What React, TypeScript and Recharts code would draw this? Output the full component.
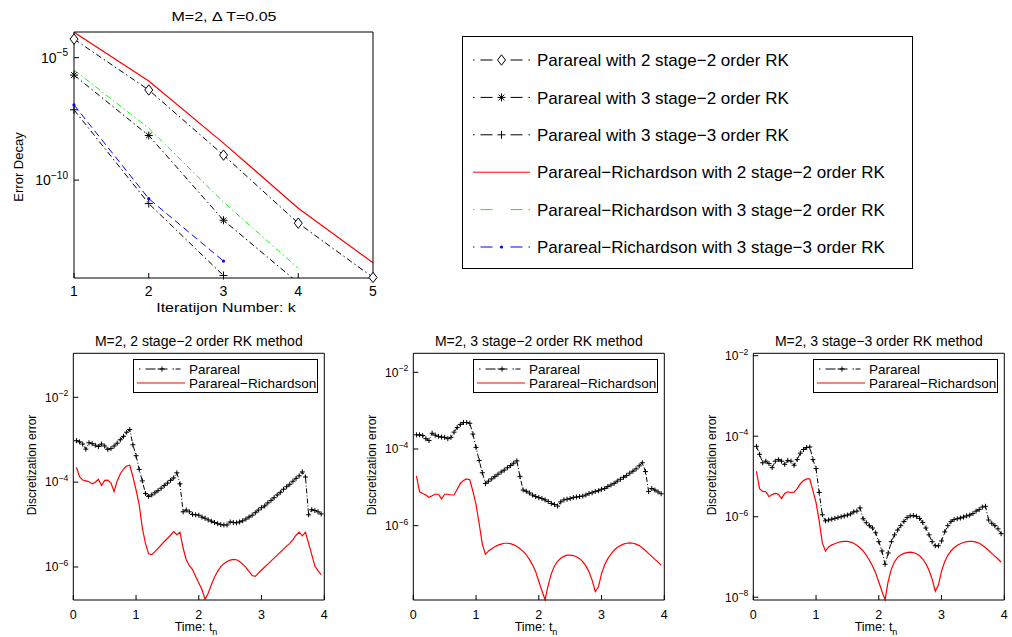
import React from 'react';
import { LineChart, Line, XAxis, YAxis, Legend } from 'recharts';

const FONT = '"Liberation Sans", Arial, Helvetica, sans-serif';
const MINUS = '\u2212';

// ---- top panel: error decay vs iteration number (M=2, dT=0.05)
const iterations = [1, 2, 3, 4, 5];
const pararealRK22 = [5.75e-5, 4.8e-7, 1.05e-9, 1.74e-12, 1.05e-14];
const pararealRK32 = [1.95e-6, 6.6e-9, 2.29e-12, 6.3e-15, null];
const pararealRK33 = [7.4e-8, 1.1e-11, 1.26e-14, null, null];
const richardsonRK22 = [1.1e-4, 1.12e-6, 3.24e-9, 7.1e-12, 4.17e-14];
const richardsonRK32 = [3.16e-6, 1.32e-8, 1.26e-11, 2.5e-14, null];
const richardsonRK33 = [1.17e-7, 1.74e-11, 4.9e-14, null, null];
const decayTicks = [1e-10, 1e-5];
const DECAY_MIN = 1e-14;
const DECAY_MAX = 1.12e-4;

// ---- bottom panels: discretization error vs time
const timeGrid = [
  0.05, 0.1, 0.15, 0.2, 0.25, 0.3, 0.35, 0.4, 0.45, 0.5,
  0.55, 0.6, 0.65, 0.7, 0.75, 0.8, 0.85, 0.9, 0.95, 1.0,
  1.05, 1.1, 1.15, 1.2, 1.25, 1.3, 1.35, 1.4, 1.45, 1.5,
  1.55, 1.6, 1.65, 1.7, 1.75, 1.8, 1.85, 1.9, 1.95, 2.0,
  2.05, 2.1, 2.15, 2.2, 2.25, 2.3, 2.35, 2.4, 2.45, 2.5,
  2.55, 2.6, 2.65, 2.7, 2.75, 2.8, 2.85, 2.9, 2.95, 3.0,
  3.05, 3.1, 3.15, 3.2, 3.25, 3.3, 3.35, 3.4, 3.45, 3.5,
  3.55, 3.6, 3.65, 3.7, 3.75, 3.8, 3.85, 3.9, 3.95,
];
const timeTicks = [0, 1, 2, 3, 4];

const pararealErr22 = [
  9.5e-4, 8.9e-4, 7.9e-4, 6.0e-4, 8.5e-4, 8.1e-4, 7.4e-4, 6.9e-4, 7.9e-4, 7.1e-4,
  5.9e-4, 6.2e-4, 7.1e-4, 8.3e-4, 1.0e-3, 1.2e-3, 1.5e-3, 1.74e-3, 7.6e-4, 4.2e-4,
  2.0e-4, 1.07e-4, 5.4e-5, 4.6e-5, 5.0e-5, 5.6e-5, 6.3e-5, 7.2e-5, 8.3e-5, 9.5e-5,
  1.1e-4, 1.26e-4, 1.66e-4, 9.1e-5, 2.0e-5, 2.2e-5, 2.0e-5, 1.74e-5, 1.7e-5, 1.66e-5,
  1.5e-5, 1.41e-5, 1.29e-5, 1.2e-5, 1.12e-5, 1.05e-5, 1.0e-5, 9.8e-6, 9.8e-6, 1.15e-5,
  1.12e-5, 1.1e-5, 1.15e-5, 1.23e-5, 1.35e-5, 1.5e-5, 1.66e-5, 1.9e-5, 2.2e-5, 2.5e-5,
  2.75e-5, 3.24e-5, 3.7e-5, 4.3e-5, 5.0e-5, 5.75e-5, 6.8e-5, 7.8e-5, 8.9e-5, 1.05e-4,
  1.23e-4, 1.41e-4, 1.74e-4, 1.32e-4, 1.7e-5, 2.24e-5, 2.14e-5, 2.0e-5, 1.78e-5,
];
const richardsonErr22 = [
  2.24e-4, 1.35e-4, 1.12e-4, 1.07e-4, 1.02e-4, 9.1e-5, 1.0e-4, 1.17e-4, 8.3e-5, 1.1e-4,
  1.12e-4, 9.5e-5, 6.0e-5, 1.07e-4, 1.58e-4, 2.04e-4, 2.4e-4, 2.5e-4, 1.35e-4, 6.6e-5,
  2.95e-5, 8.3e-6, 3.6e-6, 2.04e-6, 1.95e-6, 2.3e-6, 2.75e-6, 3.3e-6, 4.0e-6, 4.7e-6,
  5.6e-6, 6.8e-6, 5.75e-6, 6.6e-6, 2.8e-6, 1.48e-6, 1.07e-6, 8.7e-7, 6.0e-7, 4.2e-7,
  2.95e-7, 1.74e-7, 2.4e-7, 3.8e-7, 5.75e-7, 7.9e-7, 1.02e-6, 1.2e-6, 1.35e-6, 1.45e-6,
  1.51e-6, 1.48e-6, 1.35e-6, 1.17e-6, 9.8e-7, 7.9e-7, 6.3e-7, 6.0e-7, 7.2e-7, 8.5e-7,
  1.0e-6, 1.17e-6, 1.38e-6, 1.62e-6, 1.91e-6, 2.24e-6, 2.63e-6, 3.1e-6, 3.6e-6, 4.4e-6,
  5.6e-6, 6.6e-6, 5.4e-6, 6.6e-6, 3.6e-6, 1.95e-6, 1.05e-6, 8.1e-7, 6.6e-7,
];

const pararealErr32 = [
  2.34e-4, 2.34e-4, 2.24e-4, 1.86e-4, 1.66e-4, 2.57e-4, 2.29e-4, 2.14e-4, 2.04e-4, 2.0e-4,
  1.86e-4, 2.0e-4, 2.75e-4, 3.63e-4, 4.37e-4, 4.9e-4, 4.9e-4, 4.68e-4, 2.45e-4, 1.1e-4,
  5.0e-5, 2.4e-5, 1.26e-5, 1.45e-5, 1.66e-5, 1.9e-5, 2.19e-5, 2.5e-5, 2.82e-5, 3.24e-5,
  3.7e-5, 4.27e-5, 4.9e-5, 1.9e-5, 8.5e-6, 7.9e-6, 7.1e-6, 6.3e-6, 5.75e-6, 5.4e-6,
  5.1e-6, 4.7e-6, 4.27e-6, 3.8e-6, 3.55e-6, 3.24e-6, 4.17e-6, 4.7e-6, 4.9e-6, 5.1e-6,
  5.4e-6, 5.6e-6, 5.75e-6, 5.9e-6, 6.3e-6, 6.9e-6, 7.2e-6, 7.8e-6, 8.1e-6, 8.9e-6,
  9.3e-6, 1.05e-5, 1.15e-5, 1.26e-5, 1.45e-5, 1.62e-5, 1.82e-5, 2.04e-5, 2.34e-5, 2.63e-5,
  3.02e-5, 3.63e-5, 4.37e-5, 2.57e-5, 7.8e-6, 9.3e-6, 8.5e-6, 7.6e-6, 6.8e-6,
];
const richardsonErr32 = [
  2.0e-5, 7.6e-6, 6.9e-6, 6.3e-6, 5.5e-6, 6.0e-6, 6.6e-6, 6.6e-6, 5.0e-6, 6.6e-6,
  6.6e-6, 6.3e-6, 6.3e-6, 8.9e-6, 1.26e-5, 1.5e-5, 1.66e-5, 1.58e-5, 7.9e-6, 3.55e-6,
  1.12e-6, 3.3e-7, 1.78e-7, 2.19e-7, 2.5e-7, 2.82e-7, 3.1e-7, 3.3e-7, 3.47e-7, 3.47e-7,
  3.4e-7, 3.16e-7, 2.9e-7, 2.5e-7, 2.14e-7, 1.74e-7, 1.32e-7, 9.5e-8, 6.3e-8, 3.55e-8,
  2.0e-8, 1.17e-8, 2.82e-8, 5.6e-8, 8.9e-8, 1.17e-7, 1.41e-7, 1.58e-7, 1.7e-7, 1.7e-7,
  1.66e-7, 1.55e-7, 1.38e-7, 1.15e-7, 8.9e-8, 6.3e-8, 3.8e-8, 1.9e-8, 2.5e-8, 5.6e-8,
  9.5e-8, 1.38e-7, 1.82e-7, 2.29e-7, 2.7e-7, 3.02e-7, 3.3e-7, 3.47e-7, 3.55e-7, 3.47e-7,
  3.3e-7, 3.02e-7, 2.63e-7, 2.24e-7, 1.86e-7, 1.58e-7, 1.32e-7, 1.12e-7, 9.3e-8,
];

const pararealErr33 = [
  5.6e-5, 3.55e-5, 2.19e-5, 2.4e-5, 2.09e-5, 1.66e-5, 2.4e-5, 2.63e-5, 2.4e-5, 2.0e-5,
  2.5e-5, 2.4e-5, 1.9e-5, 2.63e-5, 3.8e-5, 4.68e-5, 5.25e-5, 5.4e-5, 2.63e-5, 1.58e-5,
  4.0e-6, 1.12e-6, 7.9e-7, 8.3e-7, 8.7e-7, 9.1e-7, 9.5e-7, 1.0e-6, 1.05e-6, 1.1e-6,
  1.17e-6, 1.32e-6, 1.38e-6, 1.66e-6, 8.9e-7, 7.1e-7, 6.0e-7, 5.25e-7, 4.0e-7, 2.4e-7,
  1.41e-7, 6.6e-8, 1.26e-7, 2.4e-7, 3.55e-7, 4.68e-7, 6.0e-7, 7.6e-7, 9.5e-7, 1.05e-6,
  1.07e-6, 1.02e-6, 9.1e-7, 7.2e-7, 5.25e-7, 3.55e-7, 2.4e-7, 1.9e-7, 1.9e-7, 2.5e-7,
  4.2e-7, 6.0e-7, 7.6e-7, 8.5e-7, 8.9e-7, 9.3e-7, 9.8e-7, 1.05e-6, 1.1e-6, 1.2e-6,
  1.38e-6, 1.51e-6, 1.74e-6, 1.82e-6, 8.3e-7, 6.9e-7, 6.0e-7, 5.0e-7, 3.8e-7,
];
const richardsonErr33 = [
  1.35e-5, 5.0e-6, 4.27e-6, 4.17e-6, 3.16e-6, 3.55e-6, 3.8e-6, 3.63e-6, 2.82e-6, 3.8e-6,
  4.17e-6, 4.0e-6, 4.07e-6, 5.0e-6, 6.6e-6, 7.9e-6, 8.7e-6, 8.7e-6, 4.47e-6, 2.24e-6,
  7.9e-7, 2.24e-7, 1.41e-7, 1.78e-7, 2.0e-7, 2.14e-7, 2.29e-7, 2.4e-7, 2.45e-7, 2.45e-7,
  2.34e-7, 2.19e-7, 1.95e-7, 1.7e-7, 1.41e-7, 1.12e-7, 8.3e-8, 6.0e-8, 4.0e-8, 2.4e-8,
  1.41e-8, 8.7e-9, 2.5e-8, 5.0e-8, 7.6e-8, 9.8e-8, 1.12e-7, 1.23e-7, 1.29e-7, 1.32e-7,
  1.29e-7, 1.2e-7, 1.07e-7, 8.9e-8, 6.8e-8, 4.68e-8, 2.82e-8, 1.41e-8, 2.0e-8, 4.47e-8,
  7.6e-8, 1.1e-7, 1.41e-7, 1.7e-7, 1.95e-7, 2.14e-7, 2.29e-7, 2.4e-7, 2.45e-7, 2.45e-7,
  2.34e-7, 2.19e-7, 1.95e-7, 1.7e-7, 1.45e-7, 1.23e-7, 1.05e-7, 8.9e-8, 7.4e-8,
];

// ---- styles
const DASHDOT = '6 3 1.5 3';

const topSeries = [
  { key: 'p22', name: `Parareal with 2 stage${MINUS}2 order RK`, values: pararealRK22, color: '#000000', dash: DASHDOT, marker: 'diamond', size: 4 },
  { key: 'p32', name: `Parareal with 3 stage${MINUS}2 order RK`, values: pararealRK32, color: '#000000', dash: DASHDOT, marker: 'star', size: 4 },
  { key: 'p33', name: `Parareal with 3 stage${MINUS}3 order RK`, values: pararealRK33, color: '#000000', dash: DASHDOT, marker: 'plus', size: 4 },
  { key: 'r22', name: `Parareal${MINUS}Richardson with 2 stage${MINUS}2 order RK`, values: richardsonRK22, color: '#ff0000', dash: undefined, marker: null, size: 0 },
  { key: 'r32', name: `Parareal${MINUS}Richardson with 3 stage${MINUS}2 order RK`, values: richardsonRK32, color: '#00ff00', dash: DASHDOT, marker: null, size: 0 },
  { key: 'r33', name: `Parareal${MINUS}Richardson with 3 stage${MINUS}3 order RK`, values: richardsonRK33, color: '#0000ff', dash: '7 4', marker: 'point', size: 1.6 },
];

const decayRows = iterations.map((k, i) => {
  const row: any = { k };
  topSeries.forEach((s) => { row[s.key] = s.values[i]; });
  return row;
});

const panels = [
  { left: 0, width: 340, title: `M=2, 2 stage${MINUS}2 order RK method`, parareal: pararealErr22, richardson: richardsonErr22, domain: [1.667e-7, 0.109], ticks: [1e-6, 1e-4, 1e-2] },
  { left: 340, width: 340, title: `M=2, 3 stage${MINUS}2 order RK method`, parareal: pararealErr32, richardson: richardsonErr32, domain: [1.15e-8, 0.0313], ticks: [1e-6, 1e-4, 1e-2] },
  { left: 680, width: 332, title: `M=2, 3 stage${MINUS}3 order RK method`, parareal: pararealErr33, richardson: richardsonErr33, domain: [8.55e-9, 0.01148], ticks: [1e-8, 1e-6, 1e-4, 1e-2] },
];

function Marker({ kind, cx, cy, color, size }: any) {
  const s = size;
  if (kind === 'diamond') {
    return <path d={`M${cx},${cy - s * 1.3}L${cx + s},${cy}L${cx},${cy + s * 1.3}L${cx - s},${cy}Z`} fill="#fff" stroke={color} strokeWidth={1} />;
  }
  if (kind === 'star') {
    const d = s * 0.72;
    return <path d={`M${cx - s},${cy}H${cx + s}M${cx},${cy - s}V${cy + s}M${cx - d},${cy - d}L${cx + d},${cy + d}M${cx - d},${cy + d}L${cx + d},${cy - d}`} stroke={color} strokeWidth={1} fill="none" />;
  }
  if (kind === 'plus') {
    return <path d={`M${cx - s},${cy}H${cx + s}M${cx},${cy - s}V${cy + s}`} stroke={color} strokeWidth={1} fill="none" />;
  }
  if (kind === 'point') return <circle cx={cx} cy={cy} r={s} fill={color} />;
  return null;
}

const markerDot = (kind: string, color: string, size: number) => (p: any) => {
  const { cx, cy, index } = p;
  if (cx == null || cy == null || Number.isNaN(cy)) return <g key={`m-${index}`} />;
  return (
    <g key={`m-${index}`}>
      <Marker kind={kind} cx={cx} cy={cy} color={color} size={size} />
    </g>
  );
};

const PowTick = (props: any) => {
  const { x, y, payload, fs } = props;
  const exp = Math.round(Math.log10(payload.value));
  return (
    <text x={x} y={y} textAnchor="end" fontSize={fs} fontFamily={FONT} fill="#000" dy="0.36em">
      10
      <tspan fontSize={fs * 0.72} dy={-fs * 0.45}>{`${MINUS}${-exp}`}</tspan>
    </text>
  );
};

const NumTick = (props: any) => {
  const { x, y, payload, fs } = props;
  return (
    <text x={x} y={y} textAnchor="middle" fontSize={fs} fontFamily={FONT} fill="#000" dy="0.36em">
      {payload.value}
    </text>
  );
};

function DecayLegend() {
  return (
    <svg width={451} height={233} style={{ display: 'block' }}>
      <rect x={0.5} y={0.5} width={450} height={232} fill="#fff" stroke="#000" />
      {topSeries.map((s, i) => {
        const y = 24 + i * 37.4;
        return (
          <g key={s.key}>
            <line x1={11} x2={68} y1={y} y2={y} stroke={s.color} strokeDasharray={s.dash ? '1.5 6 12 18 12 6 1.5' : undefined} />
            {s.marker && <Marker kind={s.marker} cx={39.5} cy={y} color={s.color} size={s.size} />}
            <text x={75} y={y} dy="0.36em" fontSize={17} fontFamily={FONT} fill="#000">{s.name}</text>
          </g>
        );
      })}
    </svg>
  );
}

function PanelLegend() {
  return (
    <svg width={185} height={34} style={{ display: 'block' }}>
      <rect x={0.5} y={0.5} width={184} height={33} fill="#fff" stroke="#000" />
      <line x1={6} x2={52} y1={10} y2={10} stroke="#000" strokeDasharray="1.5 5 10 2 10 5 1.5" />
      <Marker kind="plus" cx={29} cy={10} color="#000" size={2.5} />
      <text x={56} y={10} dy="0.36em" fontSize={13.5} fontFamily={FONT} fill="#000">Parareal</text>
      <line x1={4} x2={52} y1={24} y2={24} stroke="#ff0000" strokeWidth={1.2} />
      <text x={56} y={24} dy="0.36em" fontSize={13.5} fontFamily={FONT} fill="#000">{`Parareal${MINUS}Richardson`}</text>
    </svg>
  );
}

function DecayChart() {
  return (
    <LineChart width={1012} height={320} data={decayRows} margin={{ top: 31, right: 638, bottom: 41, left: 73 }}>
      <XAxis xAxisId="b" dataKey="k" type="number" domain={[1, 5]} ticks={iterations} interval={0} height={1} tickSize={-5} tickMargin={18} stroke="#000" tick={<NumTick fs={14} />} />
      <XAxis xAxisId="t" orientation="top" dataKey="k" type="number" domain={[1, 5]} ticks={iterations} interval={0} height={1} tickSize={-5} tick={false} stroke="#000" />
      <YAxis yAxisId="l" type="number" scale="log" domain={[DECAY_MIN, DECAY_MAX]} allowDataOverflow ticks={decayTicks} interval={0} width={1} tickSize={-5} tickMargin={11} stroke="#000" tick={<PowTick fs={14} />} />
      <YAxis yAxisId="r" orientation="right" type="number" scale="log" domain={[DECAY_MIN, DECAY_MAX]} allowDataOverflow ticks={decayTicks} interval={0} width={1} tickSize={-5} tick={false} stroke="#000" />
      <YAxis yAxisId="m" hide type="number" scale="log" domain={[DECAY_MIN, DECAY_MAX]} />
      {topSeries.map((s) => (
        <Line key={s.key} xAxisId="b" yAxisId="l" dataKey={s.key} stroke={s.color} strokeDasharray={s.dash} strokeWidth={s.key === 'r22' ? 1.2 : 1} dot={false} activeDot={false} isAnimationActive={false} />
      ))}
      {topSeries.filter((s) => s.marker).map((s) => (
        <Line
          key={`${s.key}-mk`}
          xAxisId="b"
          yAxisId="m"
          dataKey={(d: any) => (d[s.key] != null && d[s.key] >= DECAY_MIN ? d[s.key] : null)}
          stroke="none"
          dot={markerDot(s.marker as string, s.color, s.size)}
          activeDot={false}
          legendType="none"
          isAnimationActive={false}
        />
      ))}
      <Legend layout="vertical" align="center" verticalAlign="middle" wrapperStyle={{ position: 'absolute', left: 462, top: 36, width: 451, height: 233 }} content={() => <DecayLegend />} />
    </LineChart>
  );
}

function ErrorPanel({ p }: any) {
  const rows = timeGrid.map((t, i) => ({ t, par: p.parareal[i], rich: p.richardson[i] }));
  const plotRight = 324.3;
  return (
    <LineChart width={p.width} height={317} data={rows} margin={{ top: 32.3, right: p.width - plotRight - 1, bottom: 36, left: 72.3 }}>
      <XAxis xAxisId="b" dataKey="t" type="number" domain={[0, 4]} ticks={timeTicks} interval={0} height={1} tickSize={-5} tickMargin={19} stroke="#000" tick={<NumTick fs={12.5} />} />
      <XAxis xAxisId="t" orientation="top" dataKey="t" type="number" domain={[0, 4]} ticks={timeTicks} interval={0} height={1} tickSize={-5} tick={false} stroke="#000" />
      <YAxis yAxisId="l" type="number" scale="log" domain={p.domain} ticks={p.ticks} interval={0} width={1} tickSize={-5} tickMargin={10} stroke="#000" tick={<PowTick fs={12} />} />
      <YAxis yAxisId="r" orientation="right" type="number" scale="log" domain={p.domain} ticks={p.ticks} interval={0} width={1} tickSize={-5} tick={false} stroke="#000" />
      <Line xAxisId="b" yAxisId="l" dataKey="par" stroke="#000" strokeDasharray="5 2 1 2" strokeWidth={1} dot={markerDot('plus', '#000', 2.5)} activeDot={false} isAnimationActive={false} />
      <Line xAxisId="b" yAxisId="l" dataKey="rich" stroke="#ff0000" strokeWidth={1.2} dot={false} activeDot={false} isAnimationActive={false} />
      <Legend layout="vertical" align="center" verticalAlign="middle" wrapperStyle={{ position: 'absolute', left: plotRight - 191, top: 39.3, width: 185, height: 34 }} content={() => <PanelLegend />} />
    </LineChart>
  );
}

const abs = (x: number, y: number, fs: number, rotate = false, sx = 1): React.CSSProperties => ({
  position: 'absolute',
  left: x,
  top: y,
  transform: `translate(-50%, -50%)${rotate ? ' rotate(-90deg)' : ''}${sx !== 1 ? ` scaleX(${sx})` : ''}`,
  whiteSpace: 'nowrap',
  fontSize: fs,
  lineHeight: 1,
  color: '#000',
});

export default function App() {
  return (
    <div style={{ position: 'absolute', left: 0, top: 0, width: 1012, height: 637, background: '#fff', overflow: 'hidden', fontFamily: FONT }}>
      <div style={{ position: 'absolute', left: 0, top: 0 }}>
        <DecayChart />
      </div>
      <div style={abs(223.5, 16, 13, false, 1.23)}>M=2, Δ T=0.05</div>
      <div style={abs(226, 307, 13, false, 1.23)}>Iteratijon Number: k</div>
      <div style={abs(18, 167, 13, true)}>Error Decay</div>

      {panels.map((p) => (
        <React.Fragment key={p.title}>
          <div style={{ position: 'absolute', left: p.left, top: 320 }}>
            <ErrorPanel p={p} />
          </div>
          <div style={abs(p.left + 198.8, 340.7, 14)}>{p.title}</div>
          <div style={abs(p.left + 196, 627, 12.5)}>
            Time: t<span style={{ fontSize: 9, position: 'relative', top: 4 }}>n</span>
          </div>
          <div style={abs(p.left + 32, 465, 12, true)}>Discretization error</div>
        </React.Fragment>
      ))}
    </div>
  );
}
